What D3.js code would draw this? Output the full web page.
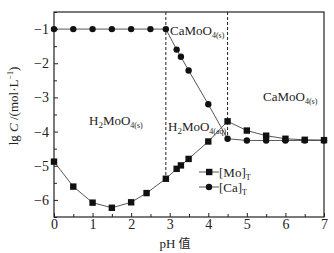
<!DOCTYPE html>
<html>
<head>
<meta charset="utf-8">
<script src="https://cdn.jsdelivr.net/npm/d3@7"></script>
<style>
  body { margin: 0; background: #fff; }
  text { font-family: "Liberation Serif", "Times New Roman", serif; fill: #222; }
</style>
</head>
<body>
<div id="chart"></div>
<script>
// data
var moPH  = [0, 0.5, 1, 1.5, 2, 2.4, 2.9, 3.18, 3.29, 3.49, 4.0, 4.5, 5.0, 5.5, 6.0, 6.5, 7.0];
var moLg  = [-4.88, -5.61, -6.08, -6.23, -6.07, -5.80, -5.38, -5.09, -4.99, -4.80, -4.29, -3.70, -3.97, -4.12, -4.21, -4.24, -4.25];
var caPH  = [0, 0.5, 1, 1.5, 2, 2.5, 2.9, 3.18, 3.29, 3.49, 4.0, 4.5, 5.0, 5.5, 6.0, 6.5, 7.0];
var caLg  = [-1, -1, -1, -1, -1, -1, -1, -1.6, -1.81, -2.21, -3.2, -4.21, -4.26, -4.26, -4.26, -4.26, -4.26];
var xTicks = [0, 1, 2, 3, 4, 5, 6, 7];
var yTicks = [-1, -2, -3, -4, -5, -6];
var boundaries = [{ ph: 2.9, lg: -5.38 }, { ph: 4.5, lg: -4.21 }];

var W = 334, H = 253;
var margin = { top: 12, right: 10, bottom: 36, left: 54 };

var svg = d3.select("#chart").append("svg")
  .attr("width", W)
  .attr("height", H);

var x = d3.scaleLinear().domain([0, 7]).range([margin.left, W - margin.right]);
var y = d3.scaleLinear().domain([-6.5, -0.5]).range([H - margin.bottom, margin.top]);

var ink = "#222";

// frame
svg.append("rect")
  .attr("x", x(0)).attr("y", y(-0.5))
  .attr("width", x(7) - x(0)).attr("height", y(-6.5) - y(-0.5))
  .attr("fill", "none").attr("stroke", ink).attr("stroke-width", 1.2);

// axes, ticks pointing in
var xAxis = svg.append("g")
  .attr("transform", "translate(0," + y(-6.5) + ")")
  .call(d3.axisBottom(x).tickValues(d3.range(0, 7.01, 0.5)).tickSize(-4).tickPadding(2)
    .tickFormat(function(d) { return xTicks.indexOf(d) >= 0 ? d : ""; }));
xAxis.select(".domain").remove();
xAxis.selectAll("line").attr("stroke", ink)
  .attr("y2", function(d) { return Number.isInteger(d) ? -4 : -3; });
xAxis.selectAll("text").attr("font-size", 14).attr("font-family", "Liberation Serif");

var yAxis = svg.append("g")
  .attr("transform", "translate(" + x(0) + ",0)")
  .call(d3.axisLeft(y).tickValues(d3.range(-6.5, -0.49, 0.5)).tickSize(-4).tickPadding(5)
    .tickFormat(function(d) { return yTicks.indexOf(d) >= 0 ? "\u2212" + Math.abs(d) : ""; }));
yAxis.select(".domain").remove();
yAxis.selectAll("line").attr("stroke", ink)
  .attr("x2", function(d) { return Number.isInteger(d) ? 4 : 3; });
yAxis.selectAll("text").attr("font-size", 14).attr("font-family", "Liberation Serif");

// dashed phase boundaries
svg.selectAll(".bnd").data(boundaries).enter().append("line")
  .attr("x1", function(d) { return x(d.ph); })
  .attr("x2", function(d) { return x(d.ph); })
  .attr("y1", y(-0.5))
  .attr("y2", function(d) { return y(d.lg); })
  .attr("stroke", ink).attr("stroke-width", 1)
  .attr("stroke-dasharray", "3,2");

var line = d3.line()
  .x(function(d) { return x(d[0]); })
  .y(function(d) { return y(d[1]); });

var moPts = d3.zip(moPH, moLg);
var caPts = d3.zip(caPH, caLg);

svg.append("path").datum(moPts).attr("d", line)
  .attr("fill", "none").attr("stroke", "#444").attr("stroke-width", 0.9);
svg.append("path").datum(caPts).attr("d", line)
  .attr("fill", "none").attr("stroke", "#444").attr("stroke-width", 0.9);

svg.selectAll(".mo").data(moPts).enter().append("rect")
  .attr("x", function(d) { return x(d[0]) - 3.2; })
  .attr("y", function(d) { return y(d[1]) - 3.2; })
  .attr("width", 6.4).attr("height", 6.4)
  .attr("fill", "#111");

svg.selectAll(".ca").data(caPts).enter().append("circle")
  .attr("cx", function(d) { return x(d[0]); })
  .attr("cy", function(d) { return y(d[1]); })
  .attr("r", 3.2)
  .attr("fill", "#111");

// region labels
function species(px, py, main, sub) {
  var t = svg.append("text").attr("x", px).attr("y", py).attr("font-size", 13);
  if (main === "H2MoO") {
    t.append("tspan").text("H");
    t.append("tspan").attr("font-size", 9).attr("dy", 3).text("2");
    t.append("tspan").attr("dy", -3).text("MoO");
  } else {
    t.append("tspan").text(main);
  }
  t.append("tspan").attr("font-size", 8).attr("dy", 3).text(sub);
}
species(170, 35, "CaMoO", "4(s)");
species(263, 101, "CaMoO", "4(s)");
species(89, 125, "H2MoO", "4(s)");
species(168, 131, "H2MoO", "4(aq)");

// legend
var legend = [
  { name: "Mo", shape: "square", y: 172 },
  { name: "Ca", shape: "circle", y: 187 }
];
var lg = svg.selectAll(".leg").data(legend).enter().append("g");
lg.append("line")
  .attr("x1", 199).attr("x2", 219)
  .attr("y1", function(d) { return d.y; }).attr("y2", function(d) { return d.y; })
  .attr("stroke", "#444").attr("stroke-width", 0.9);
lg.filter(function(d) { return d.shape === "square"; }).append("rect")
  .attr("x", 206).attr("y", function(d) { return d.y - 3.2; })
  .attr("width", 6.4).attr("height", 6.4).attr("fill", "#111");
lg.filter(function(d) { return d.shape === "circle"; }).append("circle")
  .attr("cx", 209).attr("cy", function(d) { return d.y; })
  .attr("r", 3.2).attr("fill", "#111");
var lt = lg.append("text")
  .attr("x", 219).attr("y", function(d) { return d.y + 4.5; })
  .attr("font-size", 13);
lt.append("tspan").text(function(d) { return "[" + d.name + "]"; });
lt.append("tspan").attr("font-size", 8).attr("dy", 3).text("T");

// axis titles
var yt = svg.append("text")
  .attr("transform", "translate(18,106) rotate(-90)")
  .attr("text-anchor", "middle")
  .attr("font-size", 13);
yt.append("tspan").text("lg ");
yt.append("tspan").attr("font-style", "italic").text("C");
yt.append("tspan").text(" /(mol\u00b7L");
yt.append("tspan").attr("font-size", 8).attr("dy", -5).text("\u22121");
yt.append("tspan").attr("dy", 5).text(")");

var xt = svg.append("text")
  .attr("x", 175).attr("y", 248)
  .attr("text-anchor", "middle")
  .attr("font-size", 13);
xt.append("tspan").text("pH ");
xt.append("tspan").attr("font-family", "Noto Sans CJK SC").attr("font-size", 12).text("值");
</script>
</body>
</html>
